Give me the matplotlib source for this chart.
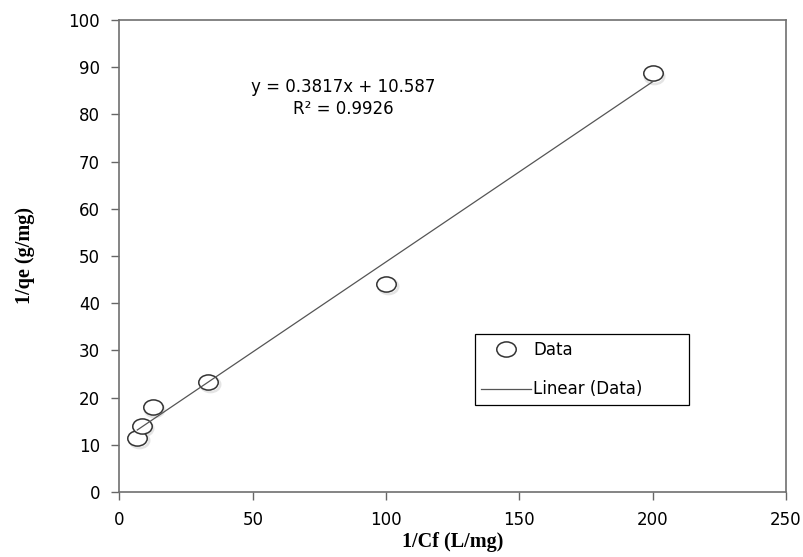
import matplotlib.pyplot as plt
import matplotlib.transforms as mt
from matplotlib.path import Path
import numpy as np

# data
inv_cf = np.array([6.67, 8.33, 12.5, 33.3, 100.0, 200.0])
inv_qe = np.array([11.5, 14.0, 18.0, 23.4, 44.1, 88.7])

slope = 0.3817
intercept = 10.587
r2 = 0.9926

x_ticks = [0, 50, 100, 150, 200, 250]
y_ticks = [0, 10, 20, 30, 40, 50, 60, 70, 80, 90, 100]

# the circles are drawn slightly squashed, as in the original
ellipse = Path.unit_circle().transformed(mt.Affine2D().scale(1.0, 0.78))

fig = plt.figure(figsize=(8.04, 5.57), dpi=100)
ax = fig.add_axes([0.1486, 0.1167, 0.829, 0.8474])

# soft shadow under markers, then the open circles
ax.plot(inv_cf + 0.6, inv_qe - 0.5, ls='none', marker=ellipse, ms=14, mfc='none',
        mec='#e4e4e4', mew=1.8, zorder=2)
ax.plot(inv_cf, inv_qe, ls='none', marker=ellipse, ms=14, mfc='white', mec='#333333',
        mew=1.1, label='Data', zorder=3)

fit_x = np.array([inv_cf.min(), inv_cf.max()])
ax.plot(fit_x, slope * fit_x + intercept, '-', color='#555555', lw=0.9,
        label='Linear (Data)', zorder=4)

ax.text(84, 85.7, 'y = %.4fx + %.3f' % (slope, intercept), ha='center', va='center',
        fontsize=12, family='DejaVu Sans')
ax.text(84, 81.2, 'R² = %.4f' % r2, ha='center', va='center', fontsize=12,
        family='DejaVu Sans')

ax.set_xlim(0, 250)
ax.set_ylim(0, 100)
ax.set_xticks(x_ticks)
ax.set_yticks(y_ticks)
for lbl in ax.get_xticklabels() + ax.get_yticklabels():
    lbl.set_family('DejaVu Sans')
    lbl.set_fontsize(12)
ax.tick_params(direction='out', length=6, width=1, color='#666666', pad=8)

for s in ax.spines.values():
    s.set_color('#707070')
    s.set_linewidth(1.2)

ax.set_xlabel('1/Cf (L/mg)', family='Liberation Serif', fontweight='bold', fontsize=14.5,
              labelpad=2)
ax.set_ylabel('1/qe (g/mg)', family='Liberation Serif', fontweight='bold', fontsize=14.5,
              labelpad=24)

leg = ax.legend(loc='lower left', bbox_to_anchor=(0.533, 0.184, 0.322, 0.151), mode='expand',
                borderaxespad=0, fancybox=False, edgecolor='black', framealpha=1,
                borderpad=0.4, labelspacing=1.3, handlelength=3.0, handletextpad=0.1,
                prop={'family': 'DejaVu Sans', 'size': 12})
leg.get_frame().set_linewidth(0.9)

fig.savefig('out.png', dpi=100)
